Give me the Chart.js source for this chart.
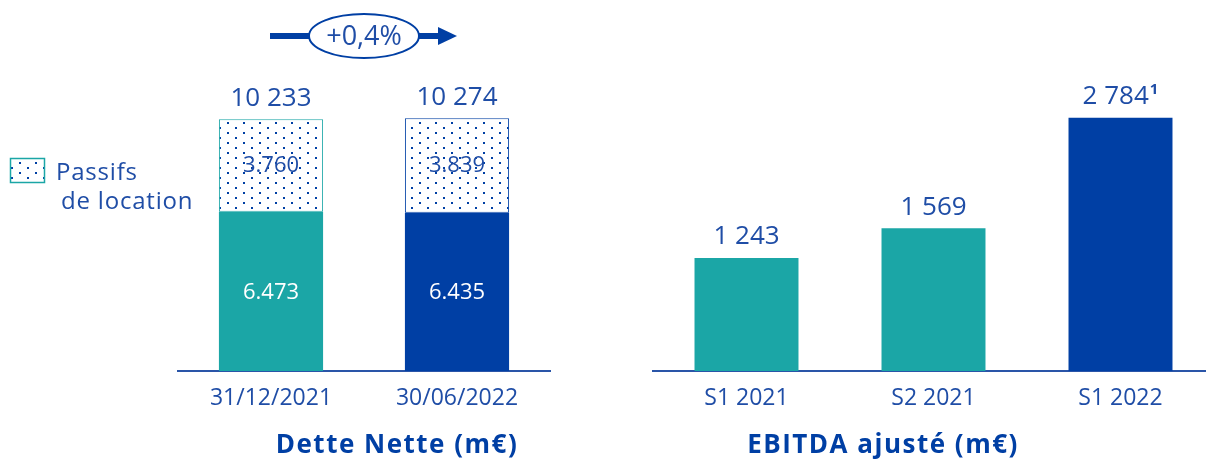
<!DOCTYPE html>
<html>
<head>
<meta charset="utf-8">
<script src="https://cdn.jsdelivr.net/npm/chart.js@4"></script>
<style>
  html, body { margin: 0; padding: 0; background: #fff; overflow: hidden; }
  body { width: 1206px; height: 459px; position: relative; }
  canvas { position: absolute; top: 0; }
  #detteChart { left: 0; }
  #ebitdaChart { left: 600px; }
</style>
</head>
<body>
<canvas id="detteChart" width="600" height="459"></canvas>
<canvas id="ebitdaChart" width="614" height="459"></canvas>
<script>
// données
const detteLabels = ['31/12/2021', '30/06/2022'];
const detteHorsLocation = [6473, 6435];
const passifsLocation = [3760, 3839];
const detteTotal = [10233, 10274];
const variationDette = '+0,4%';

const ebitdaLabels = ['S1 2021', 'S2 2021', 'S1 2022'];
const ebitdaValues = [1243, 1569, 2784];
const ebitdaNotes = ['', '', '1'];

const TEAL = '#1ba6a6';
const BLUE = '#003fa4';
const TEXT = '#1f4da6';
const FONT = '"Open Sans", sans-serif';

const fmtSpace = v => String(v).replace(/\B(?=(\d{3})+(?!\d))/g, ' ');
const fmtDot = v => String(v).replace(/\B(?=(\d{3})+(?!\d))/g, '.');

// motif pointillé
function makeDots() {
    const tile = document.createElement('canvas');
    tile.width = 16;
    tile.height = 10;
    const t = tile.getContext('2d');
    t.fillStyle = '#fff';
    t.fillRect(0, 0, 16, 10);
    t.fillStyle = BLUE;
    t.fillRect(3, 2, 2, 2);
    t.fillRect(11, 7, 2, 2);
    return document.getElementById('detteChart').getContext('2d').createPattern(tile, 'repeat');
}
const dots = makeDots();

// étiquettes de valeurs
const detteLabelsPlugin = {
    id: 'detteLabels',
    afterDatasetsDraw(chart) {
        const ctx = chart.ctx;
        ctx.save();
        ctx.textAlign = 'center';
        ctx.textBaseline = 'middle';
        const low = chart.getDatasetMeta(0).data;
        const high = chart.getDatasetMeta(1).data;
        ctx.font = '22px ' + FONT;
        low.forEach((bar, i) => {
            ctx.fillStyle = '#fff';
            ctx.fillText(fmtDot(detteHorsLocation[i]), bar.x, (bar.y + bar.base) / 2 + 1);
        });
        high.forEach((bar, i) => {
            ctx.fillStyle = TEXT;
            ctx.font = '22px ' + FONT;
            ctx.fillText(fmtDot(passifsLocation[i]), bar.x, (bar.y + bar.base) / 2);
            ctx.font = '26px ' + FONT;
            ctx.fillText(fmtSpace(detteTotal[i]), bar.x, bar.y - 21);
        });

        // flèche de variation
        ctx.fillStyle = BLUE;
        ctx.fillRect(270, 33, 40, 6);
        ctx.fillRect(418, 33, 22, 6);
        ctx.beginPath();
        ctx.moveTo(438, 27);
        ctx.lineTo(457, 36);
        ctx.lineTo(438, 45);
        ctx.closePath();
        ctx.fill();
        ctx.beginPath();
        ctx.ellipse(364, 36, 55, 22, 0, 0, Math.PI * 2);
        ctx.fillStyle = '#fff';
        ctx.fill();
        ctx.lineWidth = 2;
        ctx.strokeStyle = BLUE;
        ctx.stroke();
        ctx.fillStyle = TEXT;
        ctx.font = '27px ' + FONT;
        ctx.fillText(variationDette, 364, 37);

        // légende
        ctx.fillStyle = dots;
        ctx.fillRect(10, 158, 35, 25);
        ctx.strokeStyle = TEAL;
        ctx.lineWidth = 1.5;
        ctx.strokeRect(10.5, 158.5, 34, 24);
        ctx.fillStyle = TEXT;
        ctx.textAlign = 'left';
        ctx.font = '24px ' + FONT;
        ctx.letterSpacing = '0.8px';
        ctx.fillText('Passifs', 56, 173);
        ctx.fillText('de location', 61, 202);

        // titre
        ctx.textAlign = 'center';
        ctx.font = 'bold 26px ' + FONT;
        ctx.letterSpacing = '1.5px';
        ctx.fillStyle = BLUE;
        ctx.fillText('Dette Nette (m€)', 397, 446);
        ctx.restore();
    }
};

const ebitdaLabelsPlugin = {
    id: 'ebitdaLabels',
    afterDatasetsDraw(chart) {
        const ctx = chart.ctx;
        ctx.save();
        ctx.textBaseline = 'middle';
        ctx.fillStyle = TEXT;
        chart.getDatasetMeta(0).data.forEach((bar, i) => {
            const txt = fmtSpace(ebitdaValues[i]);
            ctx.font = '26px ' + FONT;
            const w = ctx.measureText(txt).width;
            let sw = 0;
            if (ebitdaNotes[i]) {
                ctx.font = 'bold 15px ' + FONT;
                sw = ctx.measureText(ebitdaNotes[i]).width + 1;
            }
            const x0 = bar.x - (w + sw) / 2;
            ctx.textAlign = 'left';
            ctx.font = '26px ' + FONT;
            ctx.fillText(txt, x0, bar.y - 21);
            if (ebitdaNotes[i]) {
                ctx.font = 'bold 15px ' + FONT;
                ctx.fillText(ebitdaNotes[i], x0 + w + 1, bar.y - 28);
            }
        });
        ctx.textAlign = 'center';
        ctx.font = 'bold 26px ' + FONT;
        ctx.letterSpacing = '1.5px';
        ctx.fillStyle = BLUE;
        ctx.fillText('EBITDA ajusté (m€)', 283, 446);
        ctx.restore();
    }
};

function xAxis() {
    return {
        grid: { display: false },
        border: { display: true, color: '#2a55a8', width: 2 },
        ticks: { color: TEXT, font: { family: FONT, size: 23 }, padding: 6 },
        afterFit: scale => { scale.height = 88; }
    };
}

new Chart(document.getElementById('detteChart'), {
    type: 'bar',
    data: {
        labels: detteLabels,
        datasets: [
            {
                label: 'Dette nette hors location',
                data: detteHorsLocation,
                backgroundColor: [TEAL, BLUE],
                borderWidth: 0
            },
            {
                label: 'Passifs de location',
                data: passifsLocation,
                backgroundColor: dots,
                borderColor: [TEAL, BLUE],
                borderWidth: 1,
                borderSkipped: false
            }
        ]
    },
    options: {
        responsive: false,
        animation: false,
        devicePixelRatio: 1,
        layout: { padding: { left: 178, right: 50, top: 0, bottom: 0 } },
        datasets: { bar: { barPercentage: 0.56, categoryPercentage: 1 } },
        scales: {
            x: Object.assign(xAxis(), { stacked: true }),
            y: { stacked: true, display: false, min: 0, max: 15080 }
        },
        plugins: { legend: { display: false }, tooltip: { enabled: false } }
    },
    plugins: [detteLabelsPlugin]
});

new Chart(document.getElementById('ebitdaChart'), {
    type: 'bar',
    data: {
        labels: ebitdaLabels,
        datasets: [{
            label: 'EBITDA ajusté',
            data: ebitdaValues,
            backgroundColor: [TEAL, TEAL, BLUE],
            borderWidth: 0
        }]
    },
    options: {
        responsive: false,
        animation: false,
        devicePixelRatio: 1,
        layout: { padding: { left: 53, right: 0, top: 0, bottom: 0 } },
        datasets: { bar: { barPercentage: 0.556, categoryPercentage: 1 } },
        scales: {
            x: xAxis(),
            y: { display: false, min: 0, max: 4077 }
        },
        plugins: { legend: { display: false }, tooltip: { enabled: false } }
    },
    plugins: [ebitdaLabelsPlugin]
});
</script>
</body>
</html>
